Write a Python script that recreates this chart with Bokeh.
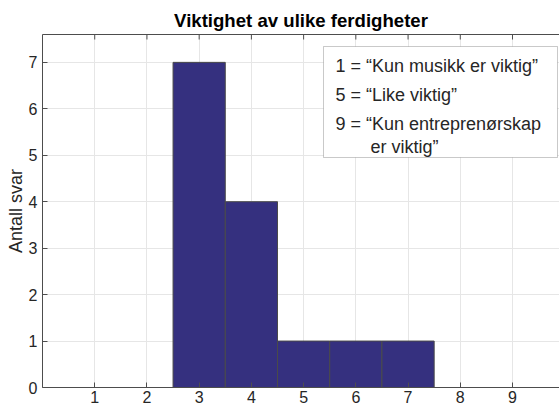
import math
from bokeh.plotting import figure
from bokeh.models import Range1d, LinearAxis, FixedTicker, Label, BoxAnnotation, ColumnDataSource
from bokeh.embed import file_html
from bokeh.resources import INLINE

# ---- data ----
scores = [1, 2, 3, 4, 5, 6, 7, 8, 9]
counts = [0, 0, 7, 4, 1, 1, 1, 0, 0]
x_ticks = [1, 2, 3, 4, 5, 6, 7, 8, 9]
y_ticks = [0, 1, 2, 3, 4, 5, 6, 7]
title_text = "Viktighet av ulike ferdigheter"
y_label = "Antall svar"
note_lines = ["1 = \u201cKun musikk er viktig\u201d",
              "5 = \u201cLike viktig\u201d",
              "9 = \u201cKun entreprenørskap",
              "er viktig\u201d"]

FONT = "Liberation Sans"
AX = "#262626"
LINE = "#4d4d4d"

X_MAX, Y_MAX = 9.9, 7.6
W, H = 559, 408
p = figure(width=W, height=H, output_backend="svg", toolbar_location=None,
           x_range=Range1d(0, X_MAX), y_range=Range1d(0, Y_MAX),
           min_border_left=42, min_border_right=0, min_border_top=34, min_border_bottom=21,
           x_axis_location=None, y_axis_location=None)
p.outline_line_color = None
p.background_fill_color = "white"
p.border_fill_color = "white"

p.title.text = title_text
p.title.text_font = FONT
p.title.text_font_size = "18.6px"
p.title.text_font_style = "bold"
p.title.text_color = "#000000"
p.title.align = "center"
p.title.standoff = 8

def style_axis(ax):
    ax.axis_line_color = LINE
    ax.axis_line_width = 1
    ax.major_tick_in = 5
    ax.major_tick_out = 0
    ax.minor_tick_in = 0
    ax.minor_tick_out = 0
    ax.major_tick_line_color = LINE
    ax.major_label_text_font = FONT
    ax.major_label_text_font_size = "16px"
    ax.major_label_text_color = AX

xb = LinearAxis()
style_axis(xb)
xb.ticker = FixedTicker(ticks=x_ticks)
xb.major_label_standoff = 3
p.add_layout(xb, "below")

xt = LinearAxis()
style_axis(xt)
xt.ticker = FixedTicker(ticks=[])
p.add_layout(xt, "above")

yl = LinearAxis()
style_axis(yl)
yl.ticker = FixedTicker(ticks=y_ticks)
yl.major_label_standoff = 5
yl.axis_label = y_label
yl.axis_label_text_font = FONT
yl.axis_label_text_font_size = "18px"
yl.axis_label_text_font_style = "normal"
yl.axis_label_text_color = AX
yl.axis_label_standoff = 0
p.add_layout(yl, "left")

p.xgrid.ticker = FixedTicker(ticks=x_ticks)
p.ygrid.ticker = FixedTicker(ticks=y_ticks)
for g in (p.xgrid, p.ygrid):
    g.grid_line_color = "#e6e6e6"
    g.grid_line_width = 1

src = ColumnDataSource(dict(x=scores, top=counts))
p.vbar(x="x", top="top", bottom=0, width=1.0, source=src,
       fill_color="#35307f", line_color="#4a4a4a", line_width=1)

# inward tick marks along the top edge (half of each dash is clipped by the frame)
p.scatter(x=x_ticks, y=[Y_MAX] * len(x_ticks), marker="dash", size=10,
          angle=math.pi / 2, line_color=LINE, line_width=1)

# text box (screen units relative to frame bottom-left)
frame_left_page, frame_bottom_page = 42, 387
def sx(px):
    return px - frame_left_page
def sy(py):
    return frame_bottom_page - py

box = BoxAnnotation(left=sx(323), right=sx(557), top=sy(46), bottom=sy(157),
                    left_units="screen", right_units="screen",
                    top_units="screen", bottom_units="screen",
                    fill_color="white", fill_alpha=1.0,
                    line_color=LINE, line_width=1)
p.add_layout(box)

ys = [65, 94, 123, 146]
xs = [335, 335, 335, 370]
for t, xx, yy in zip(note_lines, xs, ys):
    p.add_layout(Label(x=sx(xx), y=sy(yy), x_units="screen", y_units="screen",
                       text=t, text_font=FONT, text_font_size="18px",
                       text_color=AX, text_baseline="middle", text_align="left"))

open("out.html", "w").write(file_html(p, INLINE))
